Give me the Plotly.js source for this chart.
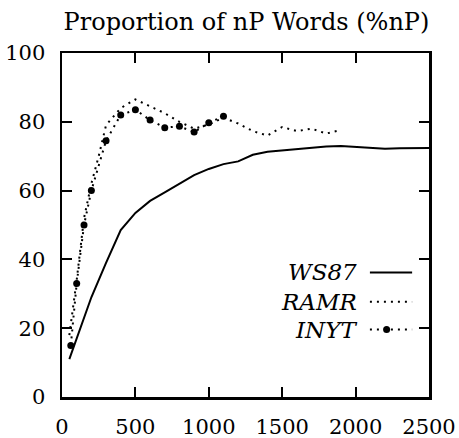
<!DOCTYPE html>
<html>
<head>
<meta charset="utf-8">
<script src="https://cdn.plot.ly/plotly-3.0.1.min.js"></script>
<style>html,body{margin:0;padding:0;background:#fff;}#chart{width:459px;height:438px;}</style>
</head>
<body>
<div id="chart"></div>
<script>
// Data
const ws87X = [50, 100, 200, 300, 400, 500, 600, 700, 800, 900, 1000, 1100, 1200, 1300, 1400, 1500, 1600, 1700, 1800, 1900, 2000, 2100, 2200, 2300, 2400, 2500];
const ws87Y = [11, 17, 29, 39, 48.5, 53.5, 57, 59.5, 62, 64.5, 66.3, 67.7, 68.5, 70.4, 71.3, 71.7, 72, 72.5, 72.8, 73, 72.7, 72.4, 72.2, 72.3, 72.4, 72.4];

const ramrX = [50, 100, 150, 200, 250, 300, 400, 500, 600, 700, 800, 900, 1000, 1100, 1200, 1300, 1400, 1500, 1600, 1700, 1800, 1900];
const ramrY = [18, 34, 52, 62, 70, 79, 84, 86.5, 84.5, 82.5, 80, 78, 79.2, 81.2, 79.5, 77.3, 76, 78.5, 77.3, 78, 76.6, 77.6];

const inytX = [60, 100, 150, 200, 300, 400, 500, 600, 700, 800, 900, 1000, 1100];
const inytY = [15, 33, 50, 60, 74.5, 82, 83.5, 80.5, 78.3, 78.7, 77, 79.7, 81.6];

const seriesNames = ["WS87", "RAMR", "INYT"];
const xTicks = [0, 500, 1000, 1500, 2000, 2500];
const yTicks = [0, 20, 40, 60, 80, 100];
const titleText = "Proportion of nP Words (%nP)";

const serif = "DejaVu Serif";
const dotDash = "2px,5px";

const traces = [
  {x: ws87X, y: ws87Y, type: "scatter", mode: "lines", name: seriesNames[0],
   line: {color: "#000", width: 2}, showlegend: false},
  {x: ramrX, y: ramrY, type: "scatter", mode: "lines", name: seriesNames[1],
   line: {color: "#000", width: 2, dash: dotDash}, showlegend: false},
  {x: inytX, y: inytY, type: "scatter", mode: "lines+markers", name: seriesNames[2],
   line: {color: "#000", width: 2, dash: dotDash},
   marker: {color: "#000", size: 7, symbol: "circle"}, showlegend: false}
];

// legend drawn manually (text left of sample, as in the reference)
const legRows = [0.362, 0.277, 0.196];
const annotations = seriesNames.map((n, i) => ({
  xref: "paper", yref: "paper", x: 0.808, y: legRows[i], xanchor: "right", yanchor: "middle",
  text: "<i>" + n + "</i>", showarrow: false, font: {family: serif, size: 23, color: "#000"}
}));
const shapes = [
  {type: "line", xref: "paper", yref: "paper", x0: 0.839, x1: 0.954, y0: legRows[0], y1: legRows[0],
   line: {color: "#000", width: 2}},
  {type: "line", xref: "paper", yref: "paper", x0: 0.839, x1: 0.954, y0: legRows[1], y1: legRows[1],
   line: {color: "#000", width: 2, dash: dotDash}},
  {type: "line", xref: "paper", yref: "paper", x0: 0.839, x1: 0.954, y0: legRows[2], y1: legRows[2],
   line: {color: "#000", width: 2, dash: dotDash}},
  {type: "circle", xref: "paper", yref: "paper",
   xsizemode: "pixel", ysizemode: "pixel", xanchor: 0.8845, yanchor: legRows[2],
   x0: -3.5, x1: 3.5, y0: -3.5, y1: 3.5, fillcolor: "#000", line: {color: "#000", width: 0}}
];

const layout = {
  width: 459, height: 438,
  margin: {l: 62, r: 30, t: 53, b: 41},
  paper_bgcolor: "#fff", plot_bgcolor: "#fff",
  title: {text: titleText, x: 0.537, xanchor: "center", y: 0.951, yanchor: "middle",
          font: {family: serif, size: 24, color: "#000"}},
  font: {family: serif, color: "#000"},
  xaxis: {range: [0, 2500], tickvals: xTicks, ticktext: xTicks.map(String),
          showgrid: false, zeroline: false, showline: true, linecolor: "#000", linewidth: 2.5,
          mirror: "ticks", ticks: "inside", ticklen: 10, tickwidth: 2, tickcolor: "#000",
          tickfont: {family: serif, size: 21, color: "#000"}, ticklabelstandoff: 9},
  yaxis: {range: [0, 100], tickvals: yTicks, ticktext: yTicks.map(String),
          showgrid: false, zeroline: false, showline: true, linecolor: "#000", linewidth: 2.5,
          mirror: "ticks", ticks: "inside", ticklen: 10, tickwidth: 2, tickcolor: "#000",
          tickfont: {family: serif, size: 21, color: "#000"}, ticklabelstandoff: 10},
  annotations: annotations,
  shapes: shapes,
  showlegend: false
};

Plotly.newPlot("chart", traces, layout, {displayModeBar: false, staticPlot: true});
</script>
</body>
</html>
